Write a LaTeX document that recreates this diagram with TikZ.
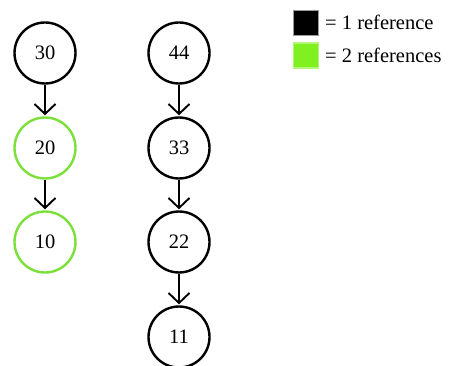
\documentclass[tikz,border=0pt]{standalone}
\usepackage{fontspec}
\setmainfont{Liberation Serif}
\usetikzlibrary{arrows.meta}
\definecolor{refgreen}{HTML}{7BE03A}
\definecolor{leggreen}{HTML}{80F020}
\tikzset{
  nd/.style={circle, draw=black, line width=2.4pt, minimum size=61pt, inner sep=0pt, font=\fontsize{20.5}{20.5}\selectfont},
  gnd/.style={nd, draw=refgreen},
  arr/.style={line width=1.9pt, -{Straight Barb[length=10pt, width=21pt, line width=1.9pt]}, shorten >=1pt},
  sq/.style={minimum size=25pt, inner sep=0pt, line width=1.2pt},
  lt/.style={anchor=west, font=\fontsize{20.5}{20.5}\selectfont, inner sep=0pt}
}
\begin{document}
\begin{tikzpicture}[x=1pt,y=-1pt]
\useasboundingbox (0,0) rectangle (455,366);
\clip (0,0) rectangle (455,366);
\node[nd]  (n30) at (45,53) {30};
\node[gnd] (n20) at (45,148) {20};
\node[gnd] (n10) at (45,242) {10};
\node[nd]  (n44) at (179,53) {44};
\node[nd]  (n33) at (179,148) {33};
\node[nd]  (n22) at (179,242) {22};
\node[nd]  (n11) at (179,337) {11};
\draw[arr] (n30) -- (n20);
\draw[arr] (n20) -- (n10);
\draw[arr] (n44) -- (n33);
\draw[arr] (n33) -- (n22);
\draw[arr] (n22) -- (n11);
\node[sq, fill=black, draw=gray!80] (s1) at (306,23) {};
\node[sq, fill=leggreen, draw=leggreen!60] (s2) at (306,55.5) {};
\node[lt] (t1) at (325,22) {= 1 reference};
\node[lt] (t2) at (325,55) {= 2 references};
\end{tikzpicture}
\end{document}
